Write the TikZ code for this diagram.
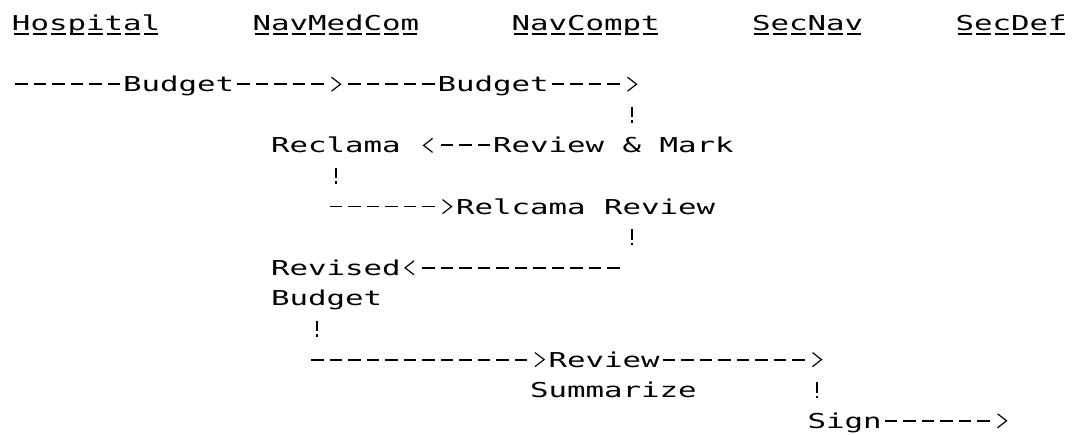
\documentclass[tikz,border=0pt]{standalone}
\usepackage{fontspec}
\newfontfamily\pr[FakeStretch=1.5]{DejaVu Sans Mono}
\usetikzlibrary{arrows.meta}
\newcommand\cx[1]{12+18.5*(#1)}
\newcommand\ry[1]{23+30.6*(#1)}
\newcommand\mkpat[1]{%
  \gdef\pat{on 0pt off 3pt}%
  \foreach \i in {2,...,#1}{\xdef\pat{\pat\space on 12.5pt off 6pt}}%
  \xdef\pat{\pat\space on 12.5pt off 400pt}}
\tikzset{
  txt/.style={inner sep=0pt, outer sep=0pt, text height=15pt, text depth=0pt,
    anchor=west, font=\pr\fontsize{20.5}{24}\selectfont},
  dl/.style={line width=1.8pt, dash pattern=on 12.5pt off 6pt, dash phase=15.5pt},
  tipd/.style={-{Straight Barb[length=9pt,width=14pt,line width=1.2pt]}, shorten >=3.5pt, dash phase=0pt},
  bang/.style={line width=2.4pt, dash pattern=on 0pt off 14.6pt on 10.5pt off 3pt on 2.5pt off 100pt},
  uline/.style={line width=1.5pt, dash pattern=on 14.5pt off 4pt, dash phase=16.5pt},
}
\begin{document}
\begin{tikzpicture}[x=1pt,y=-1pt]
\fill[white] (0,0) rectangle (1073,435);
\useasboundingbox (0,0) rectangle (1073,435);
% header
\node[txt] (h1) at ({\cx{0}},{\ry{0}}) {Hospital};
\node[txt] (h2) at ({\cx{13}},{\ry{0}}) {NavMedCom};
\node[txt] (h3) at ({\cx{27}},{\ry{0}}) {NavCompt};
\node[txt] (h4) at ({\cx{40}},{\ry{0}}) {SecNav};
\node[txt] (h5) at ({\cx{51}},{\ry{0}}) {SecDef};
\foreach \h in {h1,h2,h3,h4,h5}
  \draw[uline] ([yshift=-3.5pt]\h.base west) -- ([yshift=-3.5pt]\h.base east);
% labels
\node[txt] (b1) at ({\cx{6}},{\ry{2}}) {Budget};
\node[txt] (b2) at ({\cx{23}},{\ry{2}}) {Budget};
\node[txt] (rc) at ({\cx{14}},{\ry{4}}) {Reclama};
\node[txt] (rm) at ({\cx{26}},{\ry{4}}) {Review \& Mark};
\node[txt] (rr) at ({\cx{24}},{\ry{6}}) {Relcama Review};
\node[txt] (rv) at ({\cx{14}},{\ry{8}}) {Revised};
\node[txt] (rb) at ({\cx{14}},{\ry{9}}) {Budget};
\node[txt] (rw) at ({\cx{29}},{\ry{11}}) {Review};
\node[txt] (sz) at ({\cx{28}},{\ry{12}}) {Summarize};
\node[txt] (sg) at ({\cx{43}},{\ry{13}}) {Sign};
% free ends
\coordinate (s0) at ({\cx{0}},{\ry{2}});
\coordinate (m18) at ({\cx{18}},{\ry{2}});
\coordinate (m34) at ({\cx{34}},{\ry{2}});
\coordinate (v1a) at ({\cx{33}+9.25},{\ry{2}+8});
\coordinate (v1b) at ({\cx{33}+9.25},{\ry{4}-8});
\coordinate (v2a) at ({\cx{17}+9.25},{\ry{4}+8});
\coordinate (v2b) at ({\cx{17}+9.25},{\ry{6}-8});
\coordinate (g17) at ({\cx{17}},{\ry{6}});
\coordinate (v3a) at ({\cx{33}+9.25},{\ry{6}+8});
\coordinate (v3b) at ({\cx{33}+9.25},{\ry{8}-8});
\coordinate (h33) at ({\cx{33}},{\ry{8}});
\coordinate (v4a) at ({\cx{16}+9.25},{\ry{9}+8});
\coordinate (v4b) at ({\cx{16}+9.25},{\ry{11}-8});
\coordinate (i16) at ({\cx{16}},{\ry{11}});
\coordinate (j44) at ({\cx{44}},{\ry{11}});
\coordinate (v5a) at ({\cx{43}+9.25},{\ry{11}+8});
\coordinate (v5b) at ({\cx{43}+9.25},{\ry{13}-8});
\coordinate (k54) at ({\cx{54}},{\ry{13}});
% connectors
\draw[dl] (s0) -- (b1.west);
\mkpat{5}\draw[dl, tipd, dash pattern/.expanded=\pat] (b1.east) -- (m18);
\draw[dl] (m18) -- (b2.west);
\mkpat{4}\draw[dl, tipd, dash pattern/.expanded=\pat] (b2.east) -- (m34);
\draw[bang] (v1a) -- (v1b);
\mkpat{3}\draw[dl, tipd, dash pattern/.expanded=\pat, shorten >=22pt] (rm.west) -- (rc.east);
\draw[bang] (v2a) -- (v2b);
\mkpat{6}\draw[dl, tipd, dash pattern/.expanded=\pat] (g17) -- (rr.west);
\draw[bang] (v3a) -- (v3b);
\mkpat{11}\draw[dl, tipd, dash pattern/.expanded=\pat] (h33) -- (rv.east);
\draw[bang] (v4a) -- (v4b);
\mkpat{12}\draw[dl, tipd, dash pattern/.expanded=\pat] (i16) -- (rw.west);
\mkpat{8}\draw[dl, tipd, dash pattern/.expanded=\pat] (rw.east) -- (j44);
\draw[bang] (v5a) -- (v5b);
\mkpat{6}\draw[dl, tipd, dash pattern/.expanded=\pat] (sg.east) -- (k54);
\end{tikzpicture}
\end{document}
